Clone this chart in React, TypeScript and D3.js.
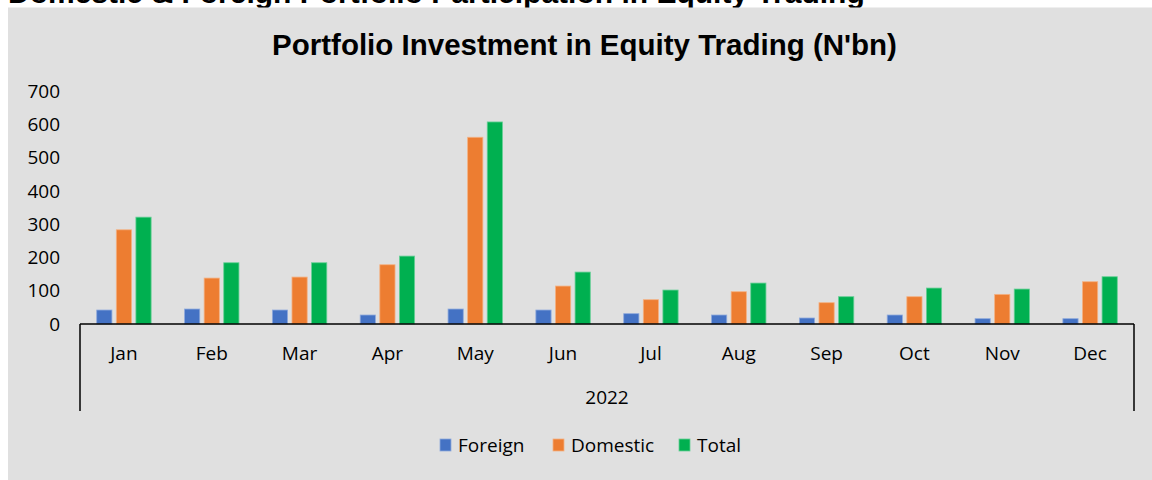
import React from "react";
import * as d3 from "d3";

const months = ["Jan", "Feb", "Mar", "Apr", "May", "Jun", "Jul", "Aug", "Sep", "Oct", "Nov", "Dec"];
const foreign = [42, 45, 42, 27, 45, 42, 31, 27, 18, 27, 16, 16];
const domestic = [283, 138, 141, 178, 561, 114, 73, 97, 64, 82, 89, 127];
const total = [321, 184, 184, 204, 607, 156, 102, 123, 82, 108, 105, 142];
const seriesNames = ["Foreign", "Domestic", "Total"];
const seriesColors = ["#4472C4", "#ED7D31", "#00B050"];
const seriesStrokes = ["#8FAADC", "#F4B183", "#66CF96"];
const yTicks = [0, 100, 200, 300, 400, 500, 600, 700];
const yearLabel = "2022";
const pageTitle = "Domestic & Foreign Portfolio Participation in Equity Trading";
const chartTitle = "Portfolio Investment in Equity Trading (N'bn)";

export default function App() {
  const W = 1152, H = 480;
  const left = 80, right = 1134, y0 = 324;
  const seriesData = [foreign, domestic, total];
  const x0 = d3.scaleBand<string>().domain(months).range([left, right]).padding(0);
  const bw = x0.bandwidth();
  const x1 = d3.scaleBand<string>().domain(seriesNames).range([bw / 2 - 27.2, bw / 2 + 27.2]).paddingInner(0.224);
  const y = d3.scaleLinear().domain([0, 700]).range([y0, 91]);
  const font = "'Open Sans', sans-serif";

  const legendItems = [
    { x: 440, tx: 458 },
    { x: 553, tx: 571 },
    { x: 679, tx: 697 },
  ];

  return (
    <svg width={W} height={H} style={{ position: "absolute", left: 0, top: 0 }}>
      <rect x={0} y={0} width={W} height={H} fill="#ffffff" />
      <text x={8} y={2.5} fontFamily="'Liberation Sans', Arial, sans-serif" fontWeight="bold" fontSize={30} fill="#000">
        {pageTitle}
      </text>
      <rect x={8} y={7.5} width={W - 8} height={H - 7.5} fill="#E0E0E0" />
      <text x={584.5} y={55} textAnchor="middle" fontFamily="'Liberation Sans', Arial, sans-serif" fontWeight="bold" fontSize={29.5} fill="#000">
        {chartTitle}
      </text>
      {yTicks.map((t) => (
        <text key={t} x={60} y={y(t)} dy="0.35em" textAnchor="end" fontFamily={font} fontSize={19} fill="#000">
          {t}
        </text>
      ))}
      {months.map((m, i) => (
        <g key={m} transform={`translate(${x0(m)},0)`}>
          {seriesNames.map((s, k) => {
            const v = seriesData[k][i];
            return (
              <rect
                key={s}
                x={x1(s)}
                y={y(v)}
                width={x1.bandwidth()}
                height={y0 - y(v)}
                fill={seriesColors[k]}
                stroke={seriesStrokes[k]}
                strokeWidth={0.8}
              />
            );
          })}
          <text x={bw / 2} y={353} dy="0.35em" textAnchor="middle" fontFamily={font} fontSize={19} fill="#000">
            {m}
          </text>
        </g>
      ))}
      <line x1={left} x2={right} y1={y0} y2={y0} stroke="#000" strokeWidth={1.5} />
      <line x1={left} x2={left} y1={y0} y2={411} stroke="#000" strokeWidth={1.5} />
      <line x1={right} x2={right} y1={y0} y2={411} stroke="#000" strokeWidth={1.5} />
      <text x={(left + right) / 2} y={397} dy="0.35em" textAnchor="middle" fontFamily={font} fontSize={19} fill="#000">
        {yearLabel}
      </text>
      {seriesNames.map((s, k) => (
        <g key={s}>
          <rect x={legendItems[k].x} y={439} width={11} height={12} fill={seriesColors[k]} stroke={seriesStrokes[k]} strokeWidth={0.8} />
          <text x={legendItems[k].tx} y={445} dy="0.35em" fontFamily={font} fontSize={19} fill="#000">
            {s}
          </text>
        </g>
      ))}
    </svg>
  );
}
